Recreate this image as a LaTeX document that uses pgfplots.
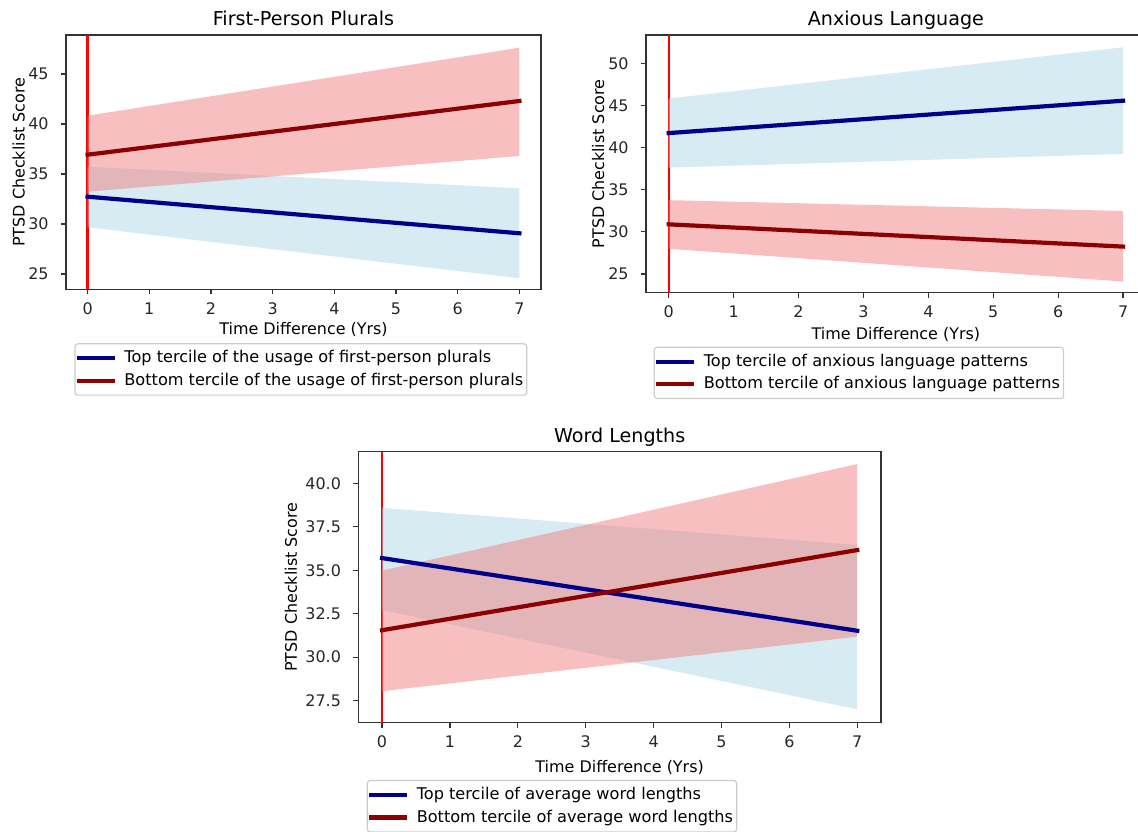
\documentclass[border=0pt]{standalone}
\usepackage{fontspec}
\setmainfont{DejaVu Sans}
\usepackage{pgfplots}
\pgfplotsset{compat=1.18}

\definecolor{bandblue}{RGB}{173,216,230}
\definecolor{bandred}{RGB}{240,128,128}
\definecolor{lineblue}{RGB}{0,0,139}
\definecolor{linered}{RGB}{139,0,0}
\definecolor{vline}{RGB}{255,0,0}

\pgfplotsset{
  every axis title shift=0pt,
  panel/.style={
    scale only axis,
    xmin=-0.35, xmax=7.35,
    xtick={0,...,7},
    xtick pos=bottom, ytick pos=left,
    tick align=outside,
    major tick length=2.5bp,
    every tick/.style={black!80, line width=0.64bp},
    axis line style={black!80, line width=0.64bp},
    /pgf/number format/assume math mode=true,
    tick label style={font=\fontsize{8}{9.6}\selectfont, text=black!85},
    xticklabel style={anchor=base, inner sep=0pt, yshift=-9.9bp},
    yticklabel style={anchor=east, inner sep=0pt, xshift=-6bp},
    title style={at={(0.5,1)}, anchor=base, yshift=4.8bp, font=\fontsize{9.6}{11.5}\selectfont},
    xlabel={Time Difference (Yrs)},
    ylabel={PTSD Checklist Score},
    label style={font=\fontsize{8}{9.6}\selectfont},
    legend cell align=left,
    legend style={anchor=north west, draw=black!20, rounded corners=1.5bp,
      line width=0.6bp, fill=white, font=\fontsize{8.1}{9.7}\selectfont,
      inner xsep=0bp, inner ysep=1.5bp, row sep=0bp, column sep=2bp,
      nodes={inner xsep=1.8bp, inner ysep=1.85bp}},
    legend image code/.code={\draw[##1, line width=2.1bp, line cap=butt] (0bp,0bp) -- (18.85bp,0bp);},
  },
  band/.style={draw=none, fill=#1, fill opacity=0.5, forget plot},
  fit/.style={color=#1, line width=2.1bp, line cap=rect},
  zero/.style={draw=vline, fill=none, line width=0.9bp, forget plot},
}

\begin{document}
\begin{tikzpicture}
\path[use as bounding box] (0,0) rectangle (569bp,416bp);

% First-person plurals
\begin{axis}[panel, at={(33bp,271.35bp)}, anchor=south west,
  width=237.5bp, height=127.15bp,
  ymin=23.47, ymax=48.9, ytick={25,30,...,45},
  title={First-Person Plurals},
  xlabel style={at={(axis description cs:0.5,0)}, anchor=base, yshift=-22.6bp},
  ylabel style={at={(axis description cs:-0.0998,0.5)}, anchor=center},
  legend style={at={(axis description cs:0.0175,-0.212)}}]
\addplot[zero, line width=1.1bp] coordinates {(0,23.47) (0,48.9)};
\addplot[band=bandblue] coordinates {(0,35.73) (7,33.57) (7,24.57) (0,29.67)};
\addplot[band=bandred] coordinates {(0,40.83) (7,47.63) (7,36.8) (0,33.23)};
\addplot[fit=lineblue] coordinates {(0,32.73) (7,29.07)};
\addplot[fit=linered] coordinates {(0,36.93) (7,42.3)};
\legend{Top tercile of the usage of first-person plurals, Bottom tercile of the usage of first-person plurals}
\end{axis}

% Anxious language
\begin{axis}[panel, at={(323bp,269.65bp)}, anchor=south west,
  width=249.9bp, height=128.85bp,
  ymin=22.78, ymax=53.36, ytick={25,30,...,50},
  title={Anxious Language},
  xlabel style={at={(axis description cs:0.5,0)}, anchor=base, yshift=-23.2bp},
  ylabel style={at={(axis description cs:-0.0956,0.5)}, anchor=center},
  legend style={at={(axis description cs:0.0154,-0.2095)}}]
\addplot[zero] coordinates {(0,22.78) (0,53.36)};
\addplot[band=bandblue] coordinates {(0,45.82) (7,51.9) (7,39.24) (0,37.62)};
\addplot[band=bandred] coordinates {(0,33.76) (7,32.48) (7,24.1) (0,27.99)};
\addplot[fit=lineblue] coordinates {(0,41.72) (7,45.56)};
\addplot[fit=linered] coordinates {(0,30.89) (7,28.25)};
\legend{Top tercile of anxious language patterns, Bottom tercile of anxious language patterns}
\end{axis}

% Word lengths
\begin{axis}[panel, at={(179.15bp,54.65bp)}, anchor=south west,
  width=261.35bp, height=135.5bp,
  ymin=26.23, ymax=41.82, ytick={27.5,30,...,40},
  yticklabel style={/pgf/number format/.cd, fixed, fixed zerofill, precision=1},
  title={Word Lengths},
  xlabel style={at={(axis description cs:0.5,0)}, anchor=base, yshift=-24.9bp},
  ylabel style={at={(axis description cs:-0.129,0.5)}, anchor=center},
  legend style={at={(axis description cs:0.016,-0.2114)}}]
\addplot[zero] coordinates {(0,26.23) (0,41.82)};
\addplot[band=bandblue] coordinates {(0,38.59) (7,36.45) (7,27.0) (0,32.71)};
\addplot[band=bandred] coordinates {(0,34.98) (7,41.11) (7,31.18) (0,28.04)};
\addplot[fit=lineblue] coordinates {(0,35.70) (7,31.52)};
\addplot[fit=linered] coordinates {(0,31.55) (7,36.16)};
\legend{Top tercile of average word lengths, Bottom tercile of average word lengths}
\end{axis}
\end{tikzpicture}
\end{document}
